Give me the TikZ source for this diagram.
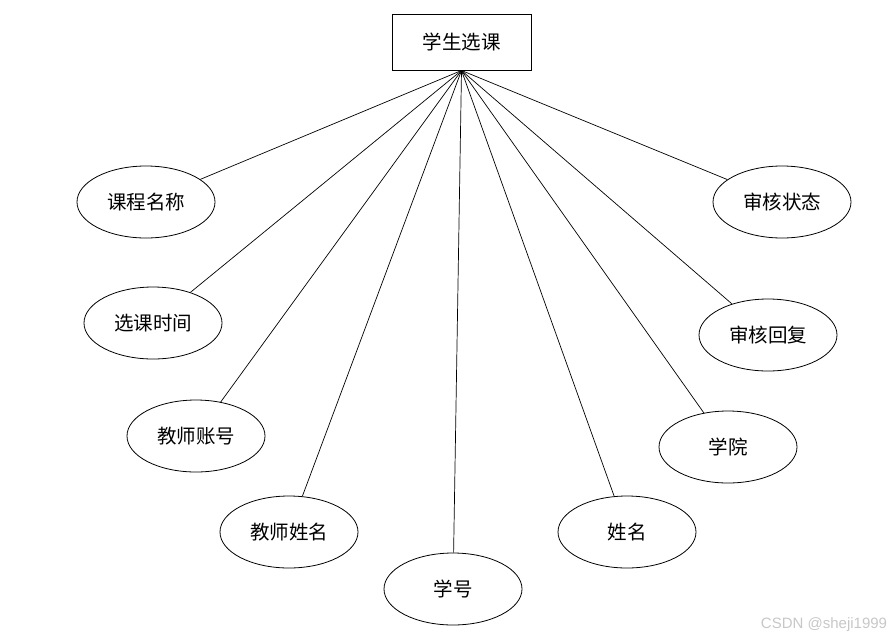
\documentclass[tikz,border=0pt]{standalone}
\usepackage{fontspec}
\newfontfamily\cjk{Noto Sans CJK SC}[Scale=1]
\newfontfamily\wm{Liberation Sans}
\usetikzlibrary{shapes.geometric}
\begin{document}
\begin{tikzpicture}[x=1pt,y=-1pt,
  attr/.style={draw,ellipse,line width=0.8pt,minimum width=138pt,minimum height=72pt,inner sep=0pt,font=\cjk\fontsize{19.5}{22}\selectfont},
  entity/.style={draw,rectangle,line width=0.8pt,minimum width=139pt,minimum height=56pt,inner sep=0pt,font=\cjk\fontsize{19.5}{22}\selectfont},
  link/.style={draw,line width=0.7pt}]
\useasboundingbox (0,0) rectangle (896,640);
\node[entity] (e) at (461.5,42.5) {学生选课};
\coordinate (hub) at (461.5,70.5);
\node[attr] (a1) at (146,202) {课程名称};
\node[attr] (a2) at (153,323) {选课时间};
\node[attr] (a3) at (196,436) {教师账号};
\node[attr] (a4) at (289,532) {教师姓名};
\node[attr] (a5) at (453,589) {学号};
\node[attr] (a6) at (627,532) {姓名};
\node[attr] (a7) at (728,447) {学院};
\node[attr] (a8) at (768,335) {审核回复};
\node[attr] (a9) at (782,202) {审核状态};
\foreach \n in {a1,a2,a3,a4,a5,a6,a7,a8,a9}
  \draw[link] (hub) -- (\n);
\node[font=\wm\fontsize{15}{17}\selectfont,text=black!22] (w) at (824,625) {CSDN @sheji1999};
\end{tikzpicture}
\end{document}
